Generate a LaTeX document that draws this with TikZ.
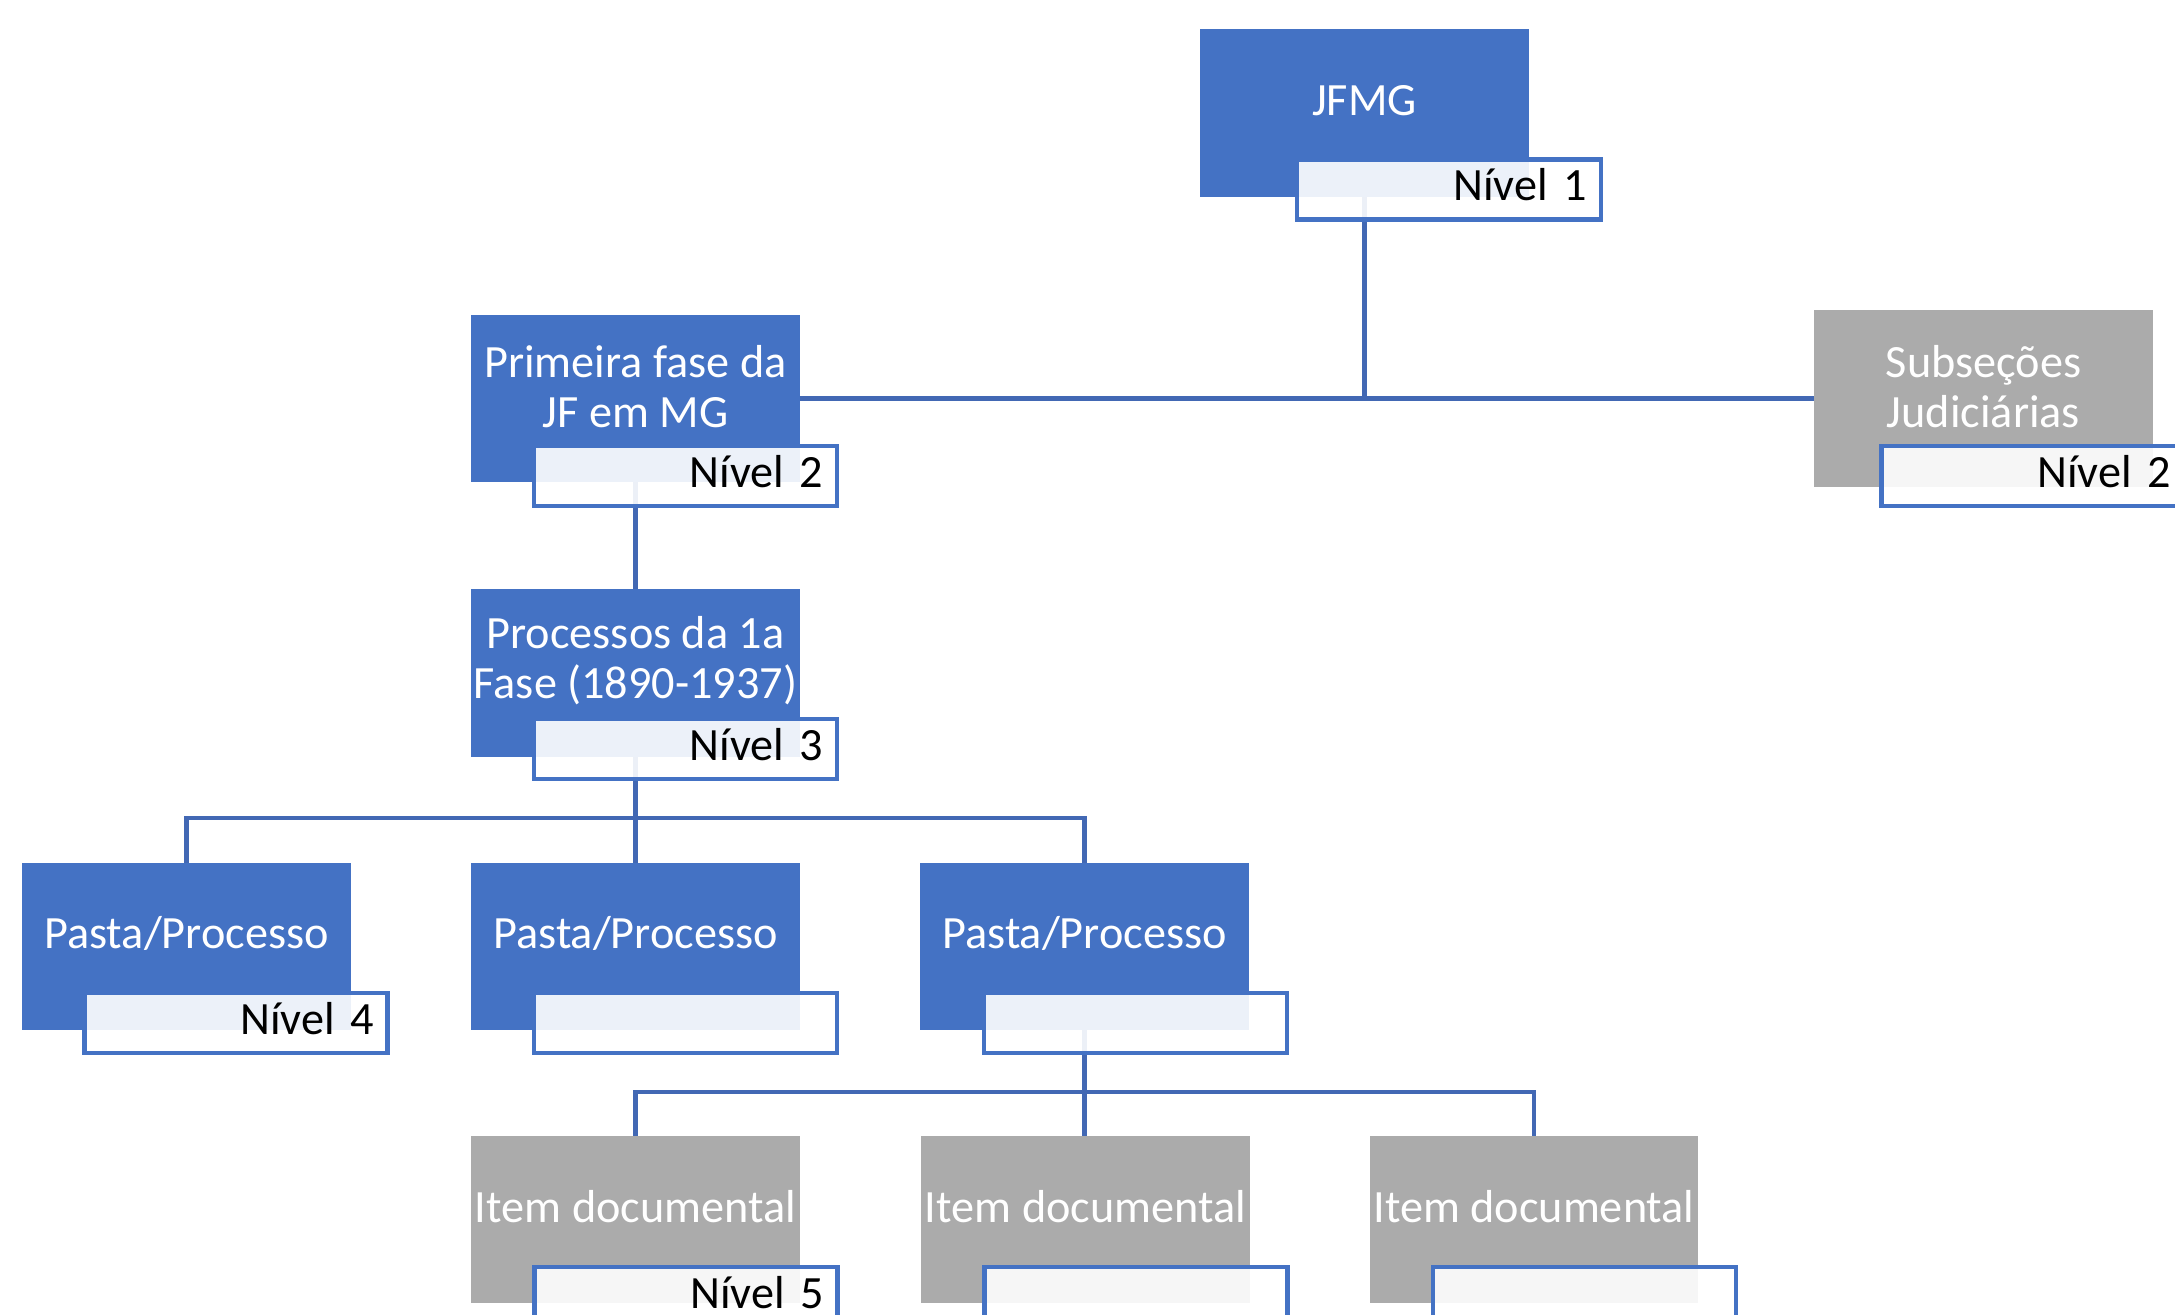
\documentclass[tikz,border=0pt]{standalone}
\usepackage{fontspec}
\setmainfont{Carlito}
\usetikzlibrary{calc}
\definecolor{boxblue}{RGB}{68,114,196}
\definecolor{linkblue}{RGB}{66,104,180}
\definecolor{boxgray}{RGB}{171,171,171}
\tikzset{
  mainbox/.style={rectangle, inner sep=0pt, outer sep=0pt, minimum width=3.28cm, minimum height=1.67cm},
  bluebox/.style={mainbox, fill=boxblue},
  graybox/.style={mainbox, fill=boxgray},
  maintext/.style={inner sep=0pt, text=white, align=center, font=\fontsize{13.15pt}{14.3pt}\selectfont},
  levelbox/.style={rectangle, draw=boxblue, line width=1.2pt, fill=white, fill opacity=0.9, text opacity=1,
     minimum width=3.03cm, minimum height=0.60cm, inner xsep=0.14cm, inner ysep=0pt,
     text width=2.75cm, text=black, text height=0.66em, text depth=0.02em,
     font=\fontsize{13.15pt}{14.3pt}\selectfont},
  conn/.style={draw=linkblue, line width=1.15pt}
}
\newcommand{\lvl}[1]{\hfill\mbox{#1}}
\begin{document}
\begin{tikzpicture}[x=0.01cm,y=-0.01cm]
\path[use as bounding box] (0,0) rectangle (2175,1315);
\clip (0,0) rectangle (2175,1315);
% main boxes
\node[bluebox] (jfmg) at (1364.5,113) {};
\node[bluebox] (prim) at (635.5,398.5) {};
\node[graybox, minimum width=3.39cm, minimum height=1.76cm] (sub) at (1983.5,398.5) {};
\node[bluebox] (proc) at (635.5,673) {};
\node[bluebox] (pa1) at (186.5,946.5) {};
\node[bluebox] (pa2) at (635.5,946.5) {};
\node[bluebox] (pa3) at (1084.5,946.5) {};
\node[graybox] (it1) at (635.5,1219.5) {};
\node[graybox] (it2) at (1085.5,1219.5) {};
\node[graybox] (it3) at (1534,1219.5) {};
% texts
\node[maintext] (jfmgT) at ($(jfmg.center)+(0,-12)$) {JFMG};
\node[maintext] (primT) at ($(prim.center)+(0,-12)$) {Primeira fase da\\JF em MG};
\node[maintext] (subT) at ($(sub.center)+(0,-12)$) {Subseções\\Judiciárias};
\node[maintext] (procT) at ($(proc.center)+(0,-12)$) {Processos da 1a\\Fase (1890-1937)};
\node[maintext] (pa1T) at ($(pa1.center)+(0,-13)$) {Pasta/Processo};
\node[maintext] (pa2T) at ($(pa2.center)+(0,-13)$) {Pasta/Processo};
\node[maintext] (pa3T) at ($(pa3.center)+(0,-13)$) {Pasta/Processo};
\node[maintext] (it1T) at ($(it1.center)+(0,-13)$) {Item documental};
\node[maintext] (it2T) at ($(it2.center)+(0,-13)$) {Item documental};
\node[maintext] (it3T) at ($(it3.center)+(0,-13)$) {Item documental};
% connectors
\coordinate (jb) at (1364.5,398.5);
\coordinate (pb) at (635.5,818);
\coordinate (ib) at (1084.5,1092);
\draw[conn] (jfmg.south) -- (jb);
\draw[conn] (prim.east) -- (sub.west);
\draw[conn] (prim.south) -- (proc.north);
\draw[conn] (proc.south) -- (pb);
\draw[conn] (pa1.north) |- (pb) -| (pa3.north);
\draw[conn] (pb) -- (pa2.north);
\draw[conn] (pa3.south) -- (ib);
\draw[conn] (it1.north) |- (ib) -| (it3.north);
\draw[conn] (ib) -- (ib |- it2.north);
% level boxes
\node[levelbox, minimum width=3.04cm] (jfmgL) at (1449,189.5) {\lvl{Nível 1}};
\node[levelbox] (primL) at (685.5,476) {\lvl{Nível 2}};
\node[levelbox] (subL) at (2033,476) {\lvl{Nível 2}};
\node[levelbox] (procL) at (685.5,749) {\lvl{Nível 3}};
\node[levelbox] (pa1L) at (236,1023) {\lvl{Nível 4}};
\node[levelbox] (pa2L) at (685.5,1023) {};
\node[levelbox] (pa3L) at (1135.5,1023) {};
\node[levelbox] (it1L) at (686,1297) {\lvl{Nível 5}};
\node[levelbox] (it2L) at (1136,1297) {};
\node[levelbox] (it3L) at (1584.5,1297) {};
\end{tikzpicture}
\end{document}
